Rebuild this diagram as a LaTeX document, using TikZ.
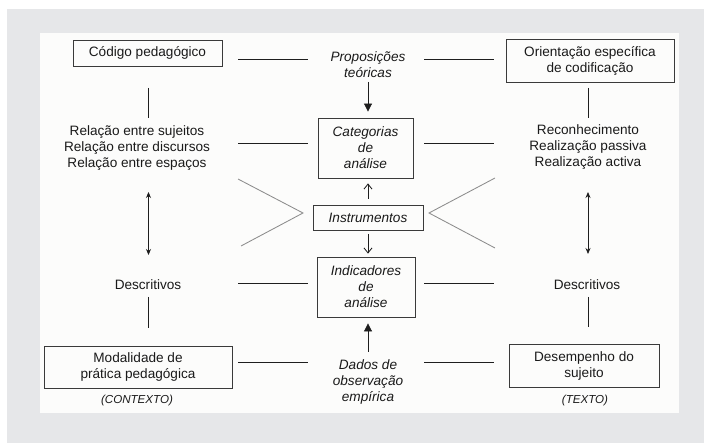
\documentclass[tikz,border=0pt]{standalone}
\usepackage{fontspec}
\setmainfont{Liberation Sans}
\usetikzlibrary{arrows.meta}
\definecolor{bggray}{HTML}{E6E7E9}
\definecolor{panel}{HTML}{FCFCFB}
\definecolor{boxline}{HTML}{3A3A3A}
\definecolor{conline}{HTML}{1E1E1E}
\definecolor{vline}{HTML}{8C8C8C}
\definecolor{ink}{HTML}{1A1A1A}
\newcommand\mainfs{\fontsize{13.6pt}{16pt}\selectfont}
\newcommand\notefs{\fontsize{11.6pt}{14pt}\selectfont}
\tikzset{
  txt/.style={inner sep=0pt, align=center, font=\mainfs, text=ink},
  ittxt/.style={txt, font=\mainfs\itshape},
  box/.style={draw=boxline, line width=0.85pt, inner sep=0pt, align=center, font=\mainfs, text=ink},
  itbox/.style={box, font=\mainfs\itshape},
  notetxt/.style={inner sep=0pt, font=\notefs\itshape, text=ink},
  conn/.style={draw=conline, line width=0.8pt},
  vee/.style={draw=vline, line width=0.85pt},
  bigtip/.style={conn, -{Triangle[length=8pt,width=8pt]}},
  opentip/.style={conn, -{Straight Barb[length=5pt,width=8pt]}},
  dbltip/.style={conn, {Stealth[length=6pt,width=5pt]}-{Stealth[length=6pt,width=5pt]}}
}
\begin{document}
\begin{tikzpicture}[x=1pt,y=-1pt]
\fill[white] (0,0) rectangle (704,443);
\fill[bggray] (7,9) rectangle (704,443);
\fill[panel] (40,33) rectangle (679,413);
\useasboundingbox (0,0) rectangle (704,443);

% nodes
\node[box, minimum width=149, minimum height=26] (cod) at (147.5,53) {Código pedagógico};
\node[ittxt] (prop) at (368,65) {Proposições\\teóricas};
\node[box, minimum width=168, minimum height=43] (ori) at (590,60.5) {Orientação específica\\de codificação};
\node[txt] (rel) at (137,148) {Relação entre sujeitos\\Relação entre discursos\\Relação entre espaços};
\node[itbox, minimum width=95, minimum height=60] (cat) at (365.5,148) {Categorias\\de\\análise};
\node[txt] (rec) at (588,147.5) {Reconhecimento\\Realização passiva\\Realização activa};
\node[itbox, minimum width=110, minimum height=25] (ins) at (368,217.5) {Instrumentos};
\node[itbox, minimum width=98, minimum height=60] (ind) at (366,287) {Indicadores\\de\\análise};
\node[txt] (desl) at (148,285) {Descritivos};
\node[txt] (desr) at (587,285) {Descritivos};
\node[box, minimum width=188, minimum height=42] (mod) at (138,367) {Modalidade de\\prática pedagógica};
\node[notetxt] (ctx) at (137,400) {(CONTEXTO)};
\node[ittxt] (dados) at (368,381.5) {Dados de\\observação\\empírica};
\node[box, minimum width=150, minimum height=43] (dese) at (584,365.5) {Desempenho do\\sujeito};
\node[notetxt] (texto) at (585,400) {(TEXTO)};

% horizontal connector ends
\coordinate (h1a) at (238,59);  \coordinate (h1b) at (308,59);
\coordinate (h1c) at (424,59);  \coordinate (h1d) at (494,59);
\coordinate (h2a) at (238,143); \coordinate (h2b) at (308,143);
\coordinate (h2c) at (424,143); \coordinate (h2d) at (494,143);
\coordinate (h4a) at (238,283); \coordinate (h4b) at (308,283);
\coordinate (h4c) at (424,283); \coordinate (h4d) at (494,283);
\coordinate (h5a) at (238,362); \coordinate (h5b) at (308,362);
\coordinate (h5c) at (424,362); \coordinate (h5d) at (494,362);
\draw[conn] (h1a) -- (h1b);
\draw[conn] (h1c) -- (h1d);
\draw[conn] (h2a) -- (h2b);
\draw[conn] (h2c) -- (h2d);
\draw[conn] (h4a) -- (h4b);
\draw[conn] (h4c) -- (h4d);
\draw[conn] (h5a) -- (h5b);
\draw[conn] (h5c) -- (h5d);

% vertical connectors
\coordinate (v1a) at (148,88);  \coordinate (v1b) at (148,118);
\coordinate (v2a) at (588,88);  \coordinate (v2b) at (588,118);
\coordinate (v3a) at (148,297); \coordinate (v3b) at (148,328);
\coordinate (v4a) at (588,297); \coordinate (v4b) at (588,327);
\draw[conn] (v1a) -- (v1b);
\draw[conn] (v2a) -- (v2b);
\draw[conn] (v3a) -- (v3b);
\draw[conn] (v4a) -- (v4b);

% double arrows
\coordinate (d1a) at (148.5,192); \coordinate (d1b) at (148.5,255);
\coordinate (d2a) at (588,192);   \coordinate (d2b) at (588,254);
\draw[dbltip] (d1a) -- (d1b);
\draw[dbltip] (d2a) -- (d2b);

% central arrows
\coordinate (a1) at (368,82);
\draw[bigtip, shorten >=6pt] (a1) -- (a1 |- cat.north);
\coordinate (a2) at (368,199);
\draw[opentip, shorten >=5pt] (a2) -- (a2 |- cat.south);
\coordinate (a3) at (368,234);
\draw[opentip, shorten >=3pt] (a3) -- (a3 |- ind.north);
\coordinate (a4) at (368,352);
\draw[bigtip, shorten >=6pt] (a4) -- (a4 |- ind.south);

% V shapes
\coordinate (vl1) at (238,179); \coordinate (vl2) at (303,213); \coordinate (vl3) at (241,246);
\coordinate (vr1) at (495,178); \coordinate (vr2) at (429,213); \coordinate (vr3) at (495,248);
\draw[vee] (vl1) -- (vl2) -- (vl3);
\draw[vee] (vr1) -- (vr2) -- (vr3);
\end{tikzpicture}
\end{document}
